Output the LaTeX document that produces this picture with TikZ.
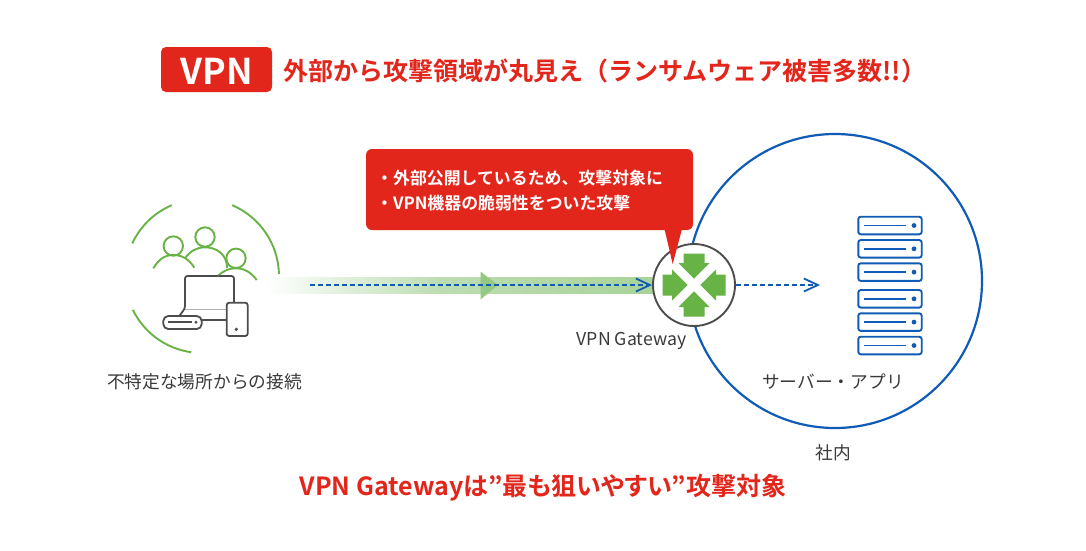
\documentclass[tikz,border=0pt]{standalone}
\usepackage{fontspec}
\setmainfont{Noto Sans CJK JP}
\newfontfamily\jpbp[RawFeature=+palt]{Noto Sans CJK JP Bold}
\newfontfamily\jpb{Noto Sans CJK JP Bold}
\newfontfamily\jpr{Noto Sans CJK JP}
\definecolor{vred}{HTML}{E3261B}
\definecolor{vgreen}{HTML}{68B346}
\definecolor{vblue}{HTML}{0F5BB5}
\definecolor{vgrey}{HTML}{4D4D4D}
\definecolor{vtext}{HTML}{3A3A3A}
\definecolor{bandA}{HTML}{BCDDB2}
\definecolor{bandB}{HTML}{A9D399}
\definecolor{bandH}{HTML}{93C982}
\usetikzlibrary{arrows.meta,calc}
\tikzset{
  px/.style={x=1pt,y=-1pt},
  lbl/.style={font=\jpr\fontsize{17.7}{20}\selectfont,text=vtext,inner sep=0pt,anchor=center},
  redt/.style={font=\jpb\fontsize{25}{30}\selectfont,text=vred,inner sep=0pt,anchor=center},
  callt/.style={font=\jpb\fontsize{16.9}{18}\selectfont,text=white,inner sep=0pt,anchor=west},
  greenline/.style={draw=vgreen,line width=1.9pt},
  devline/.style={draw=vgrey,line width=1.8pt,rounded corners=2.5pt},
  srvbox/.style={draw=vblue,line width=1.9pt,rounded corners=2.5pt,fill=white},
  flow/.style={draw=vblue,line width=2.2pt,dash pattern=on 5pt off 3pt,-{Straight Barb[length=14pt,width=13pt,line width=1.8pt]}},
}
\begin{document}
\begin{tikzpicture}[px]
\useasboundingbox (0,0) rectangle (1086,550);
\fill[white] (0,0) rectangle (1086,550);
% title
\node[fill=vred,rounded corners=5pt,minimum width=111pt,minimum height=45pt,inner sep=0pt] (badge) at (216.5,69.5) {};
\node[font=\jpb\fontsize{35.5}{40}\selectfont,text=white,inner sep=0pt] (badgetext) at (216.5,71) {VPN};
\node[redt,anchor=west] (title) at (283,71) {外部から攻撃領域が丸見え（ランサムウェア被害多数!!）};
% company circle
\node[draw=vblue,line width=2.2pt,circle,minimum size=294pt,inner sep=0pt] (company) at (835,281) {};
% band
\shade[left color=white,right color=bandA] (265,277) rectangle (440,293);
\shade[left color=bandA,right color=bandB] (439.5,277) rectangle (653,293);
\fill[bandH] (480.5,271.5) -- (498,285) -- (480.5,299.5) -- cycle;
% callout
\node[fill=vred,rounded corners=6pt,minimum width=327pt,minimum height=81pt,inner sep=0pt] (callout) at (529.5,189.5) {};
\node[callt] (c1) at (376,178.5) {・外部公開しているため、攻撃対象に};
\node[callt] (c2) at (376,203.5) {・VPN機器の脆弱性をついた攻撃};
% gateway
\node[draw=vgrey,line width=1.9pt,circle,fill=white,minimum size=82pt,inner sep=0pt] (gw) at (694,285) {};
\foreach \a in {0,90,180,270}{
  \begin{scope}[shift={(gw.center)},rotate=\a]
    \fill[vgreen] (-10.5,-31.5) -- (10.5,-31.5) -- (10.5,-22) -- (15.5,-22) -- (0,-6.3) -- (-15.5,-22) -- (-10.5,-22) -- cycle;
  \end{scope}
}
\coordinate (tailtip) at (672.7,264);
\fill[vred] (664.5,229) -- (682,229) -- (tailtip) -- cycle;
% flows
\coordinate (flowstart) at (310,285);
\coordinate (flowend) at (820,285);
\draw[flow] (flowstart) -- (gw.west);
\draw[flow] (gw.east) -- (flowend);
% people arcs
\coordinate (pc) at (202,276);
\draw[greenline] ($(pc)+(205:77)$) arc[start angle=205,end angle=247,radius=77];
\draw[greenline] ($(pc)+(-67:77)$) arc[start angle=-67,end angle=-1.5,radius=77];
\draw[greenline] ($(pc)+(154:77)$) arc[start angle=154,end angle=98,radius=77];
% people
\foreach \x/\y in {173.3/246,205/237,236/258.3}{
  \draw[greenline] (\x,\y) circle[radius=9.7];
}
\draw[greenline] (153.3,268.3) .. controls (159,259) and (165,255) .. (173,255) .. controls (182,255) and (189,259) .. (194.3,267.7);
\draw[greenline] (185,258.3) .. controls (190,251) and (197,247.3) .. (205,247.3) .. controls (215,247.3) and (227,253) .. (227,268);
\draw[greenline] (218.3,275.7) .. controls (224,270) and (230,268.3) .. (236,268.3) .. controls (244,268.3) and (251,272) .. (256.7,280);
% devices
\draw[devline] (218.5,276) -- (234,276) -- (234,303);
\draw[devline] (218.5,276) -- (185,276) -- (185,308.3) -- (179.3,316);
\draw[draw=gray!60,line width=1pt] (185,309) -- (226.7,309);
\draw[devline] (201.7,320) -- (226.7,320);
\draw[devline,rounded corners=5pt] (163.3,316) rectangle (201.7,329);
\draw[draw=vgrey,line width=2pt] (168,322.3) -- (192,322.3);
\fill[vgrey] (196,322.3) circle[radius=1.6];
\draw[devline,fill=white] (226.7,302.7) rectangle (247.7,336);
\fill[vgrey] (236.3,329.3) circle[radius=1.8];
% servers
\foreach \t in {216.7,240,263.3,290,313.3,336.7}{
  \draw[srvbox] (858.3,\t) rectangle (921.7,\t+17.6);
  \fill[vblue] (864,\t+7.9) rectangle (906,\t+9.7);
  \fill[vblue] (914,\t+8.8) circle[radius=2.4];
}
% labels
\node[lbl] (src) at (204.5,382) {不特定な場所からの接続};
\node[lbl] (gwl) at (631.5,341) {VPN Gateway};
\node[lbl] (srv) at (833,382) {サーバー・アプリ};
\node[lbl] (inner) at (833,452.5) {社内};
\node[font=\jpbp\fontsize{25}{30}\selectfont,text=vred,inner sep=0pt] (bottom) at (543,488) {VPN Gatewayは”最も狙いやすい”攻撃対象};
\end{tikzpicture}
\end{document}
